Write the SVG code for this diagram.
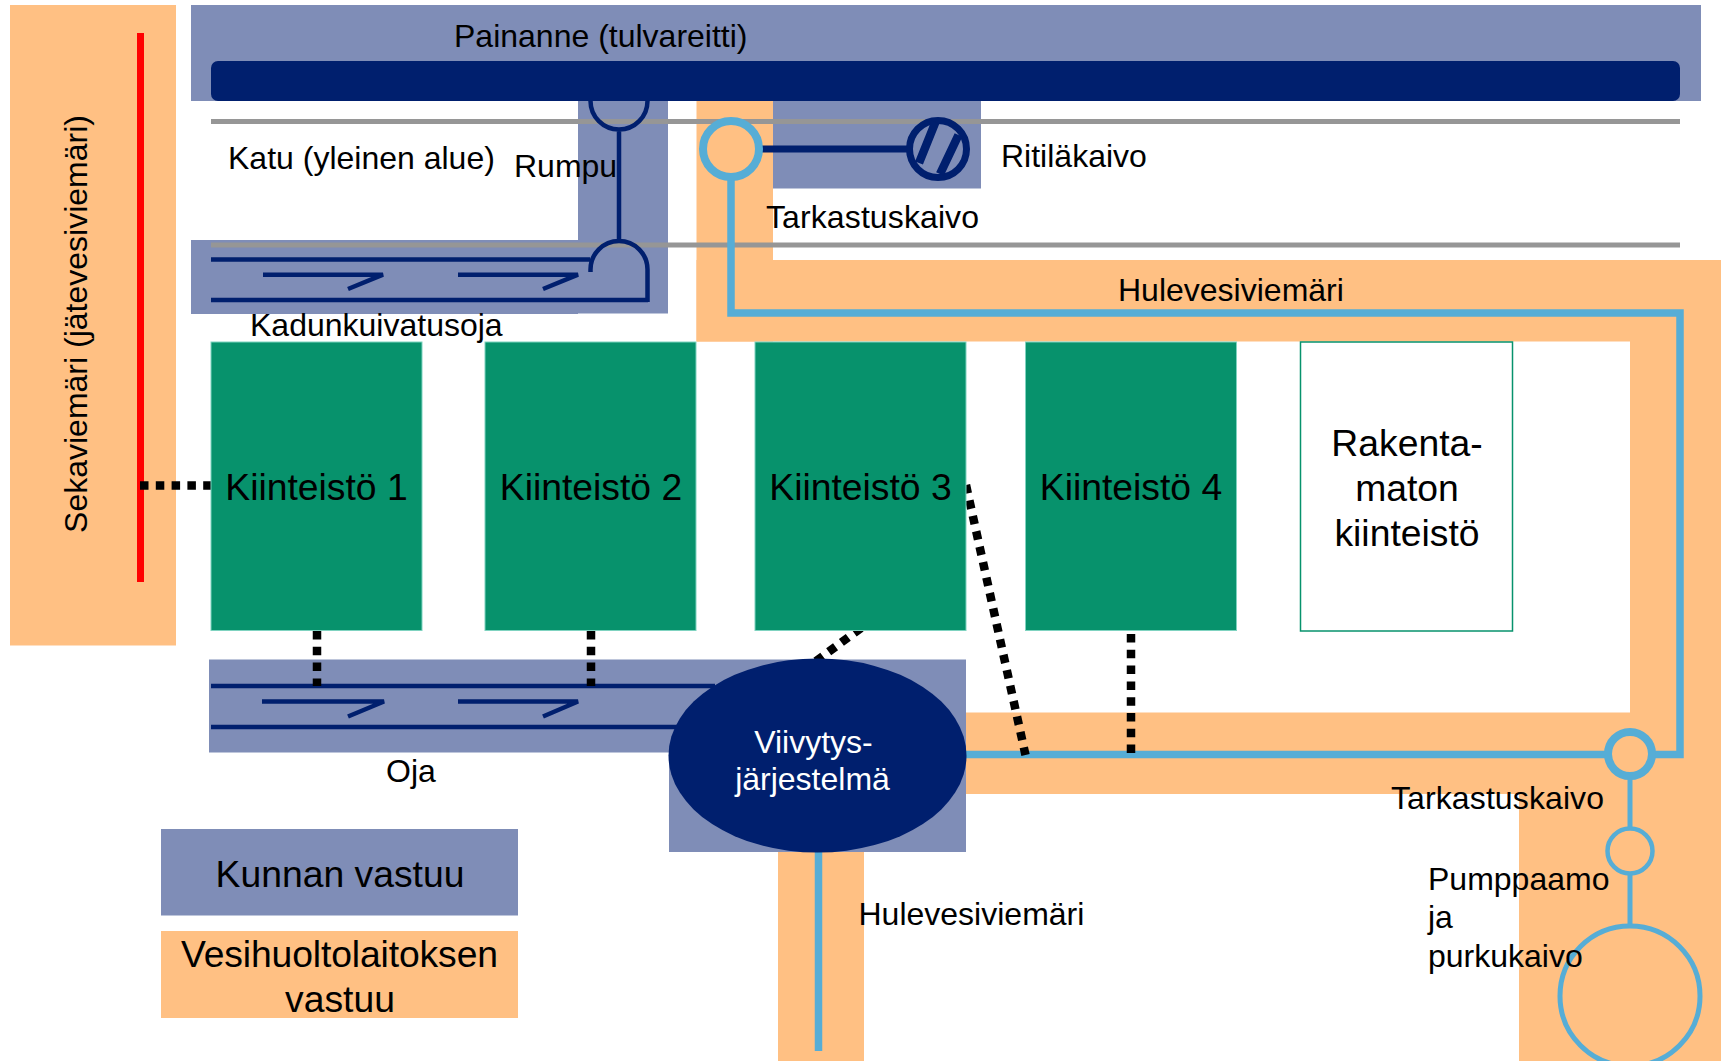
<svg xmlns="http://www.w3.org/2000/svg" width="1721" height="1061" viewBox="0 0 1721 1061">
<style>
text{font-family:"Liberation Sans",Arial,sans-serif;fill:#000}
.l{font-size:32px}
.k{font-size:37.3px;text-anchor:middle}
.w{font-size:32px;text-anchor:middle;fill:#fff}
.kv{fill:#7F8DB7}
.vh{fill:#FFC083}
.g{fill:#07926C;stroke:#7FD3C0;stroke-width:1}
.gray{stroke:#969696;stroke-width:5;fill:none}
.dk{stroke:#001F6E;fill:none;stroke-width:4.5}
.bl{stroke:#56ADD6;fill:none}
.dot{stroke:#000;stroke-width:8.500;fill:none;stroke-dasharray:8.500 7.300}
</style>
<rect width="1721" height="1061" fill="#fff"/>
<g id="areas">
<rect class="vh" x="10" y="5" width="166" height="640.500"/>
<rect class="vh" x="696.500" y="101" width="76.500" height="240.500"/>
<rect class="vh" x="696.500" y="260" width="1024.500" height="81.500"/>
<rect class="vh" x="1630" y="341" width="91" height="453"/>
<rect class="vh" x="966" y="712.500" width="664" height="81.500"/>
<rect class="vh" x="1519" y="794" width="202" height="267"/>
<rect class="vh" x="778" y="852" width="86" height="209"/>
<rect class="kv" x="191" y="5" width="1510" height="96"/>
<rect class="kv" x="773" y="101" width="208" height="87.500"/>
<rect class="kv" x="578" y="101" width="90" height="212.500"/>
<rect class="kv" x="191" y="240" width="387" height="74"/>
<rect class="kv" x="209" y="659.500" width="460" height="93"/>
<rect class="kv" x="669" y="659.500" width="297" height="192.500"/>
</g>
<g id="painanne"><rect x="211" y="61" width="1469" height="40" rx="7" fill="#001F6E"/></g>
<g id="kadut">
<path class="gray" d="M211 121.500H1680M211 245H1680"/>
</g>
<g id="connectors">
<path d="M140.500 33V582" stroke="#f00" stroke-width="7" fill="none"/>
<path class="dk" d="M590.500 101A28.500 28.500 0 0 0 647.500 101M619 130V241M590.500 272V269.500A28.500 28.500 0 0 1 647.500 269.500V302M211 259.500H590M211 300H648M263 274.700H383L348 289M458 274.700H578L543 289"/>
<path class="dk" d="M211 686H715M211 727H685M262 701.500H384L348 716.500M458 701.500H578L543 716.500"/>
<path d="M760 149H912" stroke="#001F6E" stroke-width="7" fill="none"/>
<path class="bl" stroke-width="7.500" d="M731 177V313H1680V754.600H1655M966 754.600H1605M818.500 851V1051"/>
<path class="bl" stroke-width="5" d="M1630 778V829M1630 873V926"/>
<path class="dot" d="M140 485.500H211M317 631V686M591 631V686M861 628L812 664M966 485L1025.500 755M1131 634V755"/>
</g>
<g id="kaivo1"><circle cx="731" cy="149" r="28" fill="none" stroke="#56ADD6" stroke-width="8"/></g>
<g id="ritilakaivo"><circle cx="938" cy="149" r="28.500" fill="none" stroke="#001F6E" stroke-width="7"/><path d="M935.500 122L919 163M958.500 135L940 174" stroke="#001F6E" stroke-width="8.500" fill="none"/></g>
<g id="kaivo2"><circle cx="1630" cy="754" r="22" fill="none" stroke="#56ADD6" stroke-width="8"/></g>
<g id="pumppaamo"><circle cx="1630" cy="851" r="22.500" fill="none" stroke="#56ADD6" stroke-width="4.500"/></g>
<g id="purkukaivo"><circle cx="1630" cy="996" r="70" fill="none" stroke="#56ADD6" stroke-width="5"/></g>
<g id="kiinteisto1"><rect class="g" x="211" y="342" width="211" height="288.500"/><text class="k" x="316.500" y="500">Kiinteistö 1</text></g>
<g id="kiinteisto2"><rect class="g" x="485" y="342" width="211" height="288.500"/><text class="k" x="591" y="500">Kiinteistö 2</text></g>
<g id="kiinteisto3"><rect class="g" x="755" y="342" width="211" height="288.500"/><text class="k" x="860.500" y="500">Kiinteistö 3</text></g>
<g id="kiinteisto4"><rect class="g" x="1025.500" y="342" width="211" height="288.500"/><text class="k" x="1131" y="500">Kiinteistö 4</text></g>
<g id="rakentamaton"><rect x="1300.500" y="342" width="212" height="289" fill="#fff" stroke="#07926C" stroke-width="1.500"/><text class="k" x="1407" y="456">Rakenta-</text><text class="k" x="1407" y="500.500">maton</text><text class="k" x="1407" y="546">kiinteistö</text></g>
<g id="viivytys"><ellipse cx="817.500" cy="755.500" rx="149" ry="97" fill="#001F6E"/><text class="w" x="813.500" y="753">Viivytys-</text><text class="w" x="812.500" y="790">järjestelmä</text></g>
<g id="legend-kunta"><rect class="kv" x="161" y="829" width="357" height="86.500"/><text class="k" x="340" y="887">Kunnan vastuu</text></g>
<g id="legend-vesi"><rect class="vh" x="161" y="931" width="357" height="87"/><text class="k" x="339.500" y="967" textLength="317">Vesihuoltolaitoksen</text><text class="k" x="340" y="1012">vastuu</text></g>
<g id="labels">
<text class="l" x="454" y="47">Painanne (tulvareitti)</text>
<text class="l" x="228" y="169">Katu (yleinen alue)</text>
<text class="l" x="514" y="177">Rumpu</text>
<text class="l" x="1001" y="167">Ritiläkaivo</text>
<text class="l" x="766" y="228" textLength="213">Tarkastuskaivo</text>
<text class="l" x="1118" y="301">Hulevesiviemäri</text>
<text class="l" x="250" y="336">Kadunkuivatusoja</text>
<text class="l" x="386" y="782">Oja</text>
<text class="l" x="858.500" y="925">Hulevesiviemäri</text>
<text class="l" x="1391" y="809" textLength="213">Tarkastuskaivo</text>
<text class="l" x="1428" y="890">Pumppaamo</text>
<text class="l" x="1428" y="928">ja</text>
<text class="l" x="1428" y="967">purkukaivo</text>
<text class="l" transform="translate(87 324) rotate(-90)" text-anchor="middle">Sekaviemäri (jätevesiviemäri)</text>
</g>
</svg>
